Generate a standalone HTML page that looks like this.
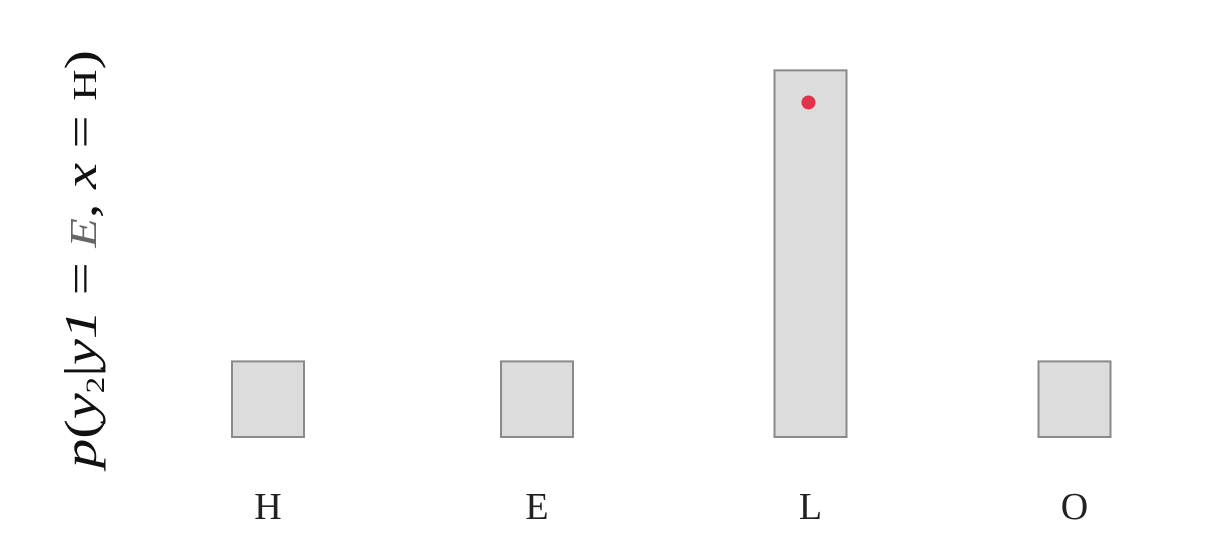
<!DOCTYPE html>
<html><head><meta charset="utf-8"><style>
html,body{margin:0;padding:0;background:#fff;width:1226px;height:556px;overflow:hidden}
</style></head><body>
<svg id="chart" width="1226" height="556" xmlns="http://www.w3.org/2000/svg">
<g transform="translate(96,468) rotate(-90)">
<text x="0" y="0" textLength="418" lengthAdjust="spacingAndGlyphs" font-family="Liberation Serif, serif" font-size="46" fill="#111"><tspan font-style="italic">p</tspan>(<tspan font-style="italic">y</tspan><tspan font-size="26" dy="8">2</tspan><tspan dy="-8">|</tspan><tspan font-style="italic">y1</tspan> =    <tspan font-style="italic" fill="#666" font-size="38">E</tspan>, <tspan font-style="italic">x</tspan> = <tspan font-size="34">H</tspan>)</text>
</g>
<g id="bars"></g>
</svg>
<script>
const categories = ["H","E","L","O"];
const values = [0.2, 0.2, 0.97, 0.2];
const markerIndex = 2;
const markerValue = 0.885;

const centers = [268, 537, 810.5, 1074.5];
const baseY = 437, unit = 378, barW = 72;
function yScale(v){ return baseY - v*unit; }
function xScale(i){ return centers[i]; }
const ns = "http://www.w3.org/2000/svg";
const g = document.getElementById('bars');
categories.forEach((c,i)=>{
  const r = document.createElementNS(ns,'rect');
  r.setAttribute('x', xScale(i)-barW/2);
  r.setAttribute('y', yScale(values[i]));
  r.setAttribute('width', barW);
  r.setAttribute('height', baseY - yScale(values[i]));
  r.setAttribute('fill', '#dcdcdc');
  r.setAttribute('stroke', '#8a8a8a');
  r.setAttribute('stroke-width', '2');
  
  
  g.appendChild(r);
  const t = document.createElementNS(ns,'text');
  t.setAttribute('x', xScale(i));
  t.setAttribute('y', 519);
  t.setAttribute('text-anchor','middle');
  t.setAttribute('font-family','Liberation Serif, serif');
  t.setAttribute('font-size','38');
  t.setAttribute('fill','#222');
  t.textContent = c;
  
  
  g.appendChild(t);
});
const dot = document.createElementNS(ns,'circle');
dot.setAttribute('cx', xScale(markerIndex)-2);
dot.setAttribute('cy', yScale(markerValue));
dot.setAttribute('r', 7);
dot.setAttribute('fill', '#e0334a');


g.appendChild(dot);
</script>
</body></html>
